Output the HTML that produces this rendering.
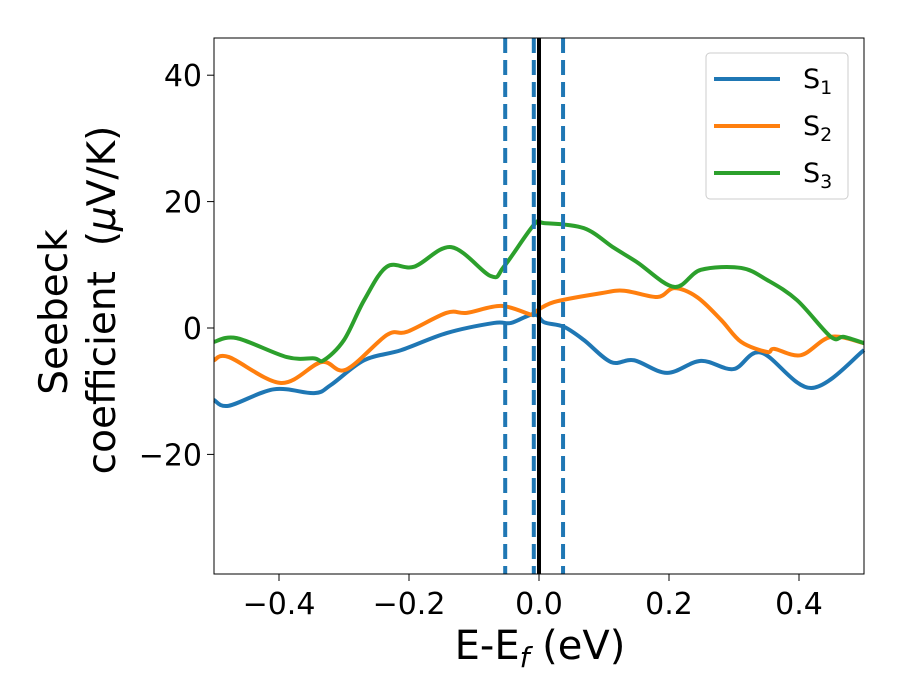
<!DOCTYPE html>
<html><head><meta charset="utf-8"><style>
body{margin:0;background:#fff}
svg{display:block;font-family:"DejaVu Sans","Liberation Sans",sans-serif}
</style></head><body>
<svg id="chart" width="900" height="700" viewBox="0 0 900 700">
<g id="marks"></g>
<rect x="214" y="38" width="650" height="536" fill="none" stroke="#000" stroke-width="1"/>
<g id="ticks"></g>
<text x="540" y="659" font-size="40" text-anchor="middle">E-E<tspan font-style="italic" font-size="28" dy="8">f</tspan><tspan dy="-8"> (eV)</tspan></text>
<text transform="translate(67,312) rotate(-90)" font-size="39" text-anchor="middle">Seebeck</text>
<text transform="translate(115,300) rotate(-90)" font-size="39" text-anchor="middle">coefficient&#160; (<tspan font-style="italic">μ</tspan>V/K)</text>
<g>
<rect x="706" y="53" width="142" height="146" rx="4" fill="#fff" stroke="#ccc" stroke-width="1"/>
<line x1="714" y1="79" x2="780" y2="79" stroke="#1f77b4" stroke-width="4"/>
<text x="803" y="88" font-size="27">S<tspan font-size="19" dy="6">1</tspan></text>
<line x1="714" y1="126" x2="780" y2="126" stroke="#ff7f0e" stroke-width="4"/>
<text x="803" y="135" font-size="27">S<tspan font-size="19" dy="6">2</tspan></text>
<line x1="714" y1="173" x2="780" y2="173" stroke="#2ca02c" stroke-width="4"/>
<text x="803" y="182" font-size="27">S<tspan font-size="19" dy="6">3</tspan></text>
</g>
</svg>
<script>
const s1x=[-0.5,-0.477,-0.408,-0.346,-0.32,-0.269,-0.212,-0.142,-0.069,-0.043,-0.008,0.008,0.038,0.069,0.111,0.146,0.197,0.249,0.299,0.342,0.419,0.5];
const s1y=[-11.4,-12.3,-9.7,-10.3,-9.0,-5.1,-3.5,-0.8,0.8,0.8,2.2,0.9,0.2,-1.9,-5.4,-5.1,-7.1,-5.2,-6.5,-3.9,-9.5,-3.5];
const s2x=[-0.5,-0.477,-0.397,-0.335,-0.297,-0.234,-0.203,-0.142,-0.111,-0.058,-0.012,-0.008,0.023,0.095,0.131,0.182,0.208,0.243,0.28,0.311,0.351,0.362,0.403,0.449,0.5];
const s2y=[-5.1,-4.6,-8.7,-5.4,-6.6,-1.1,-0.6,2.4,2.4,3.5,2.1,2.4,4.1,5.5,5.9,4.9,6.3,4.9,1.3,-2.2,-3.8,-3.3,-4.3,-1.4,-2.4];
const s3x=[-0.5,-0.465,-0.388,-0.346,-0.331,-0.3,-0.269,-0.234,-0.192,-0.135,-0.074,-0.054,-0.008,0.008,0.069,0.115,0.151,0.208,0.249,0.311,0.351,0.397,0.449,0.469,0.5];
const s3y=[-2.2,-1.6,-4.6,-4.8,-5.1,-1.9,4.4,9.7,9.7,12.8,8.2,9.7,16.3,16.6,15.8,12.7,10.4,6.5,9.2,9.5,7.6,4.4,-1.4,-1.4,-2.4];
const vlinesDashed=[-0.052,-0.008,0.037];
const fermi=[0.0];
const xTicks=[-0.4,-0.2,0.0,0.2,0.4];
const xTickLabels=["\u22120.4","\u22120.2","0.0","0.2","0.4"];
const yTicks=[40,20,0,-20];
const yTickLabels=["40","20","0","\u221220"];

const X=v=>539+v*650, Y=v=>328-v*6.32;
const NS="http://www.w3.org/2000/svg";
const marks=document.getElementById('marks'), ticks=document.getElementById('ticks');
function smooth(xs,ys){
  const p=xs.map((x,i)=>[X(x),Y(ys[i])]);
  let d="M"+p[0][0]+","+p[0][1];
  for(let i=0;i<p.length-1;i++){
    const p0=p[i-1]||p[i],p1=p[i],p2=p[i+1],p3=p[i+2]||p2;
    const c1=[p1[0]+(p2[0]-p0[0])/6,p1[1]+(p2[1]-p0[1])/6];
    const c2=[p2[0]-(p3[0]-p1[0])/6,p2[1]-(p3[1]-p1[1])/6];
    d+=` C${c1[0]},${c1[1]} ${c2[0]},${c2[1]} ${p2[0]},${p2[1]}`;
  }
  return d;
}
[[s1x,s1y,"#1f77b4","series-s1"],[s2x,s2y,"#ff7f0e","series-s2"],[s3x,s3y,"#2ca02c","series-s3"]].forEach(s=>{
  const el=document.createElementNS(NS,'path');
  el.setAttribute('d',smooth(s[0],s[1]));
  el.setAttribute('fill','none');el.setAttribute('stroke',s[2]);el.setAttribute('stroke-width','4');
  
  
  marks.appendChild(el);
});
vlinesDashed.forEach(v=>{
  const el=document.createElementNS(NS,'line');
  el.setAttribute('x1',X(v));el.setAttribute('x2',X(v));el.setAttribute('y1',38);el.setAttribute('y2',574);
  el.setAttribute('stroke','#1f77b4');el.setAttribute('stroke-width','4');el.setAttribute('stroke-dasharray','15 7');
  
  
  marks.appendChild(el);
});
fermi.forEach(v=>{
  const el=document.createElementNS(NS,'line');
  el.setAttribute('x1',X(v));el.setAttribute('x2',X(v));el.setAttribute('y1',38);el.setAttribute('y2',574);
  el.setAttribute('stroke','#000');el.setAttribute('stroke-width','4');
  
  
  marks.appendChild(el);
});
xTicks.forEach((v,i)=>{
  const l=document.createElementNS(NS,'line');
  l.setAttribute('x1',X(v));l.setAttribute('x2',X(v));l.setAttribute('y1',574);l.setAttribute('y2',581);l.setAttribute('stroke','#000');
  
  
  ticks.appendChild(l);
  const t=document.createElementNS(NS,'text');
  t.setAttribute('x',X(v));t.setAttribute('y',614);t.setAttribute('font-size','30');t.setAttribute('text-anchor','middle');
  t.textContent=xTickLabels[i];
  
  
  ticks.appendChild(t);
});
yTicks.forEach((v,i)=>{
  const l=document.createElementNS(NS,'line');
  l.setAttribute('x1',207);l.setAttribute('x2',214);l.setAttribute('y1',Y(v));l.setAttribute('y2',Y(v));l.setAttribute('stroke','#000');
  
  
  ticks.appendChild(l);
  const t=document.createElementNS(NS,'text');
  t.setAttribute('x',202);t.setAttribute('y',Y(v)+11);t.setAttribute('font-size','30');t.setAttribute('text-anchor','end');
  t.textContent=yTickLabels[i];
  
  
  ticks.appendChild(t);
});
</script>
</body></html>
